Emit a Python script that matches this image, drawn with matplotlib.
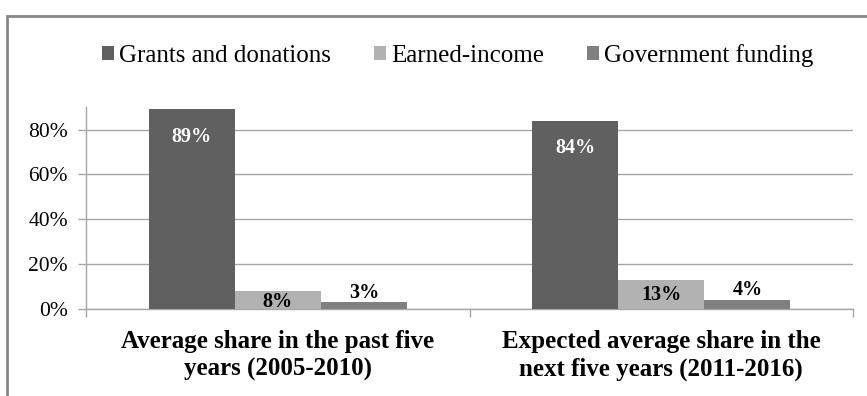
import numpy as np
import matplotlib.pyplot as plt
from matplotlib.patches import Rectangle
from matplotlib.ticker import PercentFormatter

plt.rcParams['font.family'] = ['Liberation Serif', 'DejaVu Serif']

# data
categories = ["Average share in the past five\nyears (2005-2010)",
              "Expected average share in the\nnext five years (2011-2016)"]
series = ["Grants and donations", "Earned-income", "Government funding"]
grants = [0.89, 0.84]
earned = [0.08, 0.13]
government = [0.03, 0.04]
labels = [["89%", "84%"], ["8%", "13%"], ["3%", "4%"]]

colors = ["#606060", "#b2b2b2", "#808080"]
label_colors = ["white", "black", "black"]
label_offsets = [[-20, -20], [-8, -11], [7, 7]]

fig = plt.figure(figsize=(8.67, 3.96), dpi=100)
ax = fig.add_axes([0.0992, 0.2197, 0.8847, 0.5095])

x = np.arange(len(categories)) + 0.5
w = 0.2245
values = [grants, earned, government]
for i, (vals, name) in enumerate(zip(values, series)):
    xs = x + (i - 1) * w
    ax.bar(xs, vals, width=w, color=colors[i], label=name, zorder=3)
    for j in range(len(xs)):
        ax.annotate(labels[i][j], (xs[j], vals[j]), xytext=(0, label_offsets[i][j]),
                    textcoords="offset points", ha="center", va="center",
                    fontsize=14.5, fontweight="bold", color=label_colors[i], zorder=4)

ax.set_xlim(0, 2)
ax.set_ylim(0, 0.9)
ax.set_yticks([0, 0.2, 0.4, 0.6, 0.8])
ax.yaxis.set_major_formatter(PercentFormatter(1.0, decimals=0))
ax.grid(axis="y", color="#a6a6a6", linewidth=1, zorder=0)
ax.set_xticks(x)
ax.set_xticklabels(categories, fontsize=18, fontweight="bold", linespacing=1.25)
ax.set_xticks([0, 1, 2], minor=True)
ax.tick_params(axis="x", which="major", length=0, pad=15)
ax.tick_params(axis="x", which="minor", length=6, color="#a6a6a6", width=1)
ax.tick_params(axis="y", length=6, color="#a6a6a6", width=1, labelsize=15.5, pad=7)
for s in ["top", "right"]:
    ax.spines[s].set_visible(False)
for s in ["left", "bottom"]:
    ax.spines[s].set_color("#a6a6a6")
    ax.spines[s].set_linewidth(1)

fig.legend(loc="center", bbox_to_anchor=(0.528, 0.861), ncol=3, frameon=False,
           fontsize=18, handlelength=0.5, handleheight=0.5, handletextpad=0.2,
           columnspacing=1.7)

fig.add_artist(Rectangle((0.008, -0.5), 2, 1.46, transform=fig.transFigure,
                         fill=False, edgecolor="#888888", linewidth=2))

fig.savefig("out.png", dpi=100)
